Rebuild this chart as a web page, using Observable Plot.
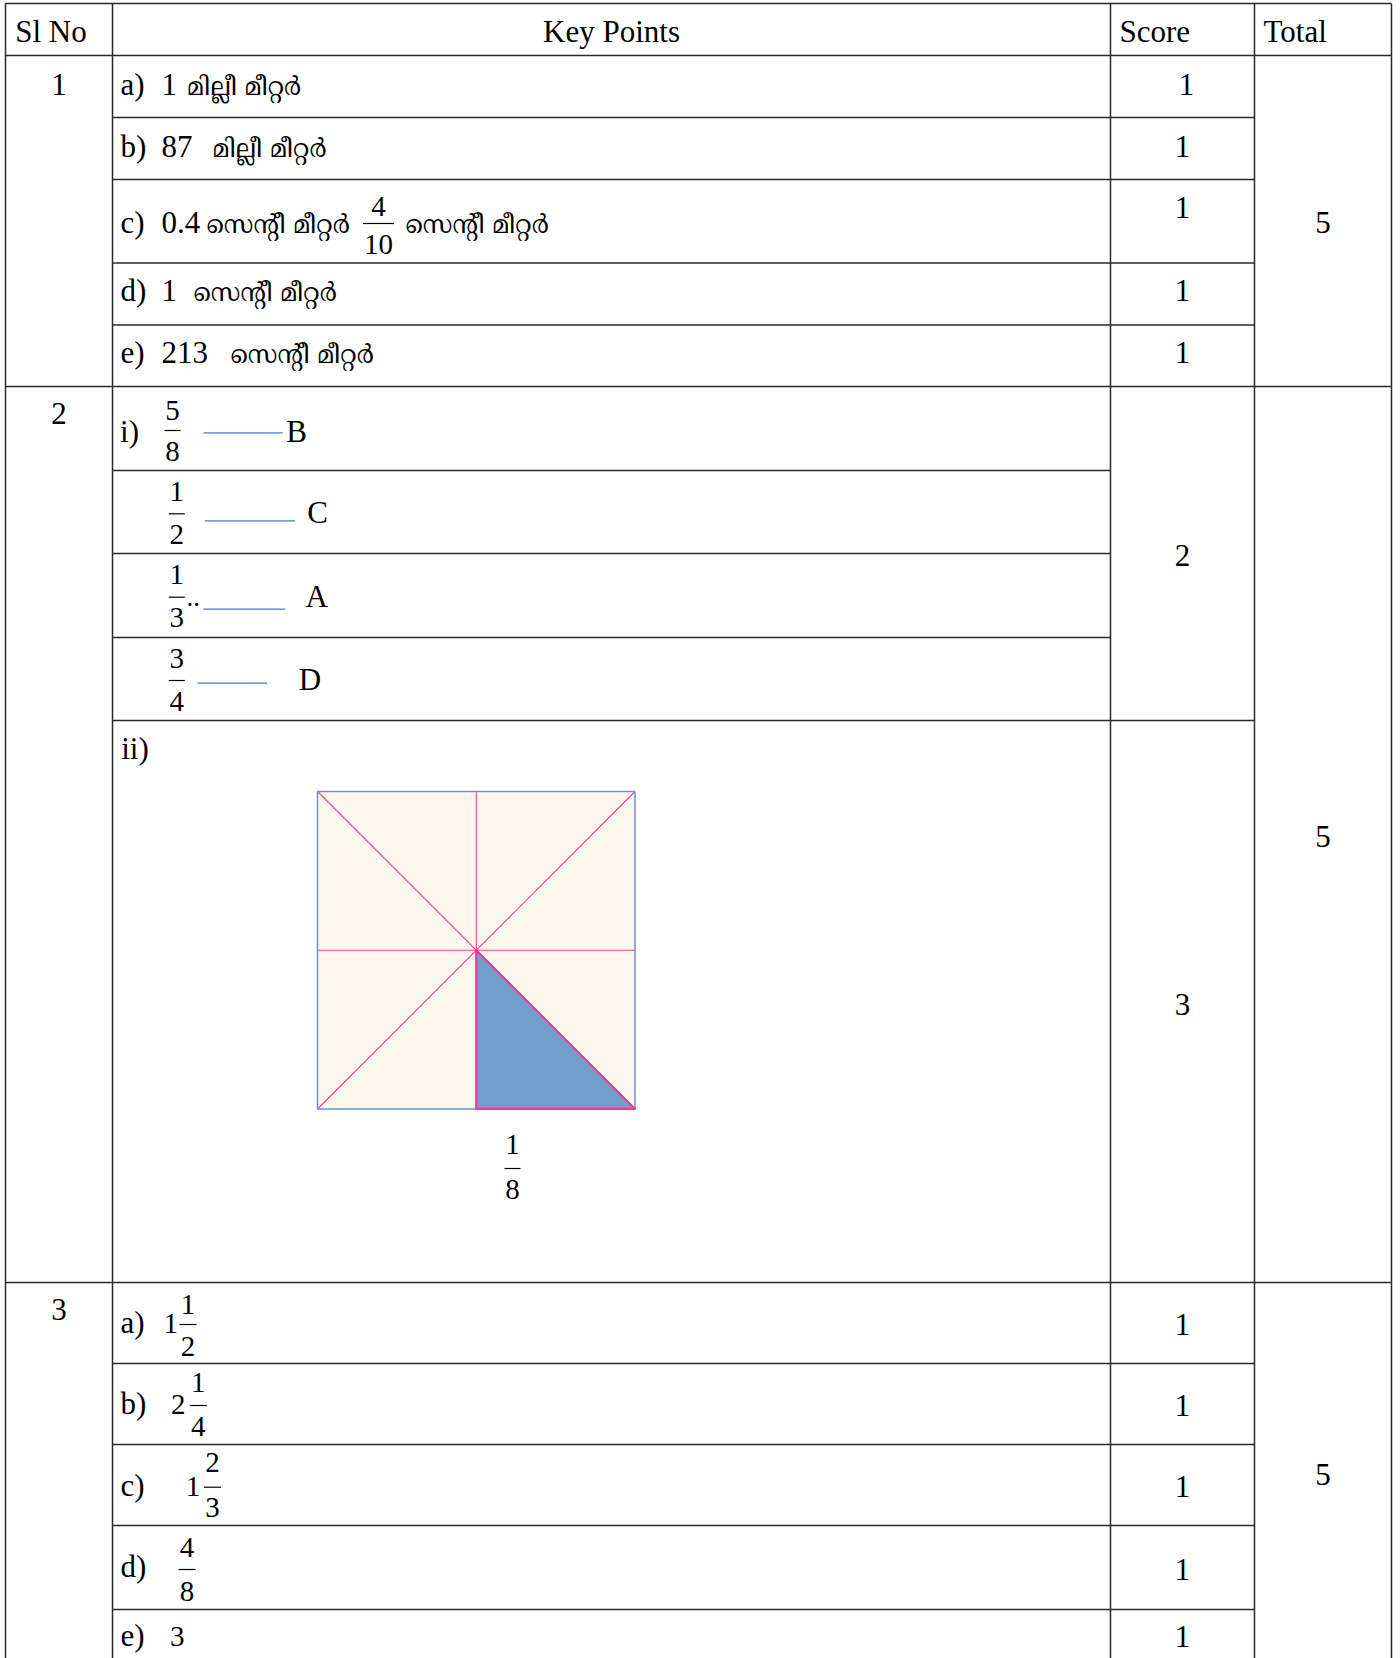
<!DOCTYPE html>
<html><head><meta charset="utf-8">
<script src="https://cdn.jsdelivr.net/npm/d3@7"></script>
<script src="https://cdn.jsdelivr.net/npm/@observablehq/plot@0.6"></script>
<style>body{margin:0;background:#fff}</style>
</head><body><div id="chart"></div>
<script>
// ---------------- content ----------------
const headers = ["Sl No", "Key Points", "Score", "Total"];
const questionNumbers = ["1", "2", "3"];
const questionTotals = ["5", "5", "5"];

const q1Parts = ["a)", "b)", "c)", "d)", "e)"];
const q1Values = ["1", "87", "0.4", "1", "213"];
const q1Units = ["മില്ലീ മീറ്റർ", "മില്ലീ മീറ്റർ", "സെന്റീ മീറ്റർ", "സെന്റീ മീറ്റർ", "സെന്റീ മീറ്റർ"];
const q1cFraction = ["4", "10"];
const q1Scores = ["1", "1", "1", "1", "1"];

const q2Parts = ["i)", "ii)"];
const q2Numerators = ["5", "1", "1", "3"];
const q2Denominators = ["8", "2", "3", "4"];
const q2Matches = ["B", "C", "A", "D"];
const q2Scores = ["2", "3"];
const q2Shaded = ["1", "8"];

const q3Parts = ["a)", "b)", "c)", "d)", "e)"];
const q3Wholes = ["1", "2", "1", "", "3"];
const q3Numerators = ["1", "1", "2", "4", ""];
const q3Denominators = ["2", "4", "3", "8", ""];
const q3Scores = ["1", "1", "1", "1", "1"];

// ---------------- layout ----------------
const W = 1400, H = 1658;
const colX = [5, 112, 1110, 1254, 1391];
const tableTop = 3, headerBottom = 55;
const q1Lines = [117, 179, 262.5, 324.5];
const q2Lines = [470, 553, 637];
const q2Split = 720;
const q3Lines = [1363, 1444, 1525, 1609];
const blockBottoms = [386, 1282];

const FS = 31;   // body text
const FR = 29;   // fraction digits
const FM = 25;   // Malayalam
const yOf = (baseline, fs) => baseline - 0.32 * fs;

const startTexts = [];   // {x, b, t, fs, font}
const midTexts = [];
const bars = [];         // fraction bars {x1,x2,y}
const blueLinks = [];

function frac(cx, num, den, nb, by, db, w, fs = FR) {
  midTexts.push({x: cx, b: nb, t: num, fs});
  midTexts.push({x: cx, b: db, t: den, fs});
  bars.push({x1: cx - w / 2, x2: cx + w / 2, y: by});
}

// headers
const headerX = [14.7, 611, 1119, 1263];
headers.forEach((h, i) => (i === 1 ? midTexts : startTexts).push({x: headerX[i], b: 41, t: h, fs: FS}));

// question numbers & totals
const qnoBase = [94.3, 423.3, 1319.3];
const totalBase = [232.3, 846, 1484.3];
questionNumbers.forEach((q, i) => midTexts.push({x: 58.5, b: qnoBase[i], t: q, fs: FS}));
questionTotals.forEach((q, i) => midTexts.push({x: 1322.5, b: totalBase[i], t: q, fs: FS}));

// Q1
const q1Base = [94, 156, 232, 300, 362];
const q1ScoreBase = [94.3, 156.7, 217, 300, 362];
const q1ScoreX = [1186, 1182, 1182, 1182, 1182];
const q1UnitX = [186.6, 212, 206, 193, 230];
q1Parts.forEach((p, i) => {
  startTexts.push({x: 120, b: q1Base[i], t: p, fs: FS});
  startTexts.push({x: 161, b: q1Base[i], t: q1Values[i], fs: FS});
  startTexts.push({x: q1UnitX[i], b: q1Base[i], t: q1Units[i], fs: FM, font: "mal"});
  midTexts.push({x: q1ScoreX[i], b: q1ScoreBase[i], t: q1Scores[i], fs: FS});
});
frac(378, q1cFraction[0], q1cFraction[1], 215, 223, 253, 31);
startTexts.push({x: 405, b: q1Base[2], t: q1Units[2], fs: FM, font: "mal"});

// Q2 (i)
startTexts.push({x: 119.6, b: 441.7, t: q2Parts[0], fs: FS});
const q2Cx = [172, 176.3, 176.3, 176.3];
const q2NumB = [419.3, 500.7, 583.3, 667.3];
const q2Bar = [430, 513.3, 596.7, 680];
const q2DenB = [460, 543.3, 626.7, 710];
const q2LineX1 = [203, 204.5, 203, 197];
const q2LineX2 = [282, 294.6, 284.8, 266.5];
const q2LineY = [432.3, 520.3, 608.7, 682.7];
const q2LetterX = [285.7, 306.7, 305, 298.2];
const q2LetterB = [441, 522.7, 606, 689];
q2Matches.forEach((m, i) => {
  frac(q2Cx[i], q2Numerators[i], q2Denominators[i], q2NumB[i], q2Bar[i], q2DenB[i], 16);
  blueLinks.push({x1: q2LineX1[i], x2: q2LineX2[i], y: q2LineY[i]});
  startTexts.push({x: q2LetterX[i], b: q2LetterB[i], t: m, fs: FS});
});
startTexts.push({x: 186, b: 605.5, t: "..", fs: 27});
midTexts.push({x: 1182, b: 565, t: q2Scores[0], fs: FS});
// Q2 (ii)
startTexts.push({x: 120.7, b: 758, t: q2Parts[1], fs: FS});
midTexts.push({x: 1182, b: 1014, t: q2Scores[1], fs: FS});
frac(512, q2Shaded[0], q2Shaded[1], 1153, 1168, 1198, 16);

// Q3
const q3Base = [1332.3, 1413.3, 1495, 1576.7, 1645];
const q3WholeX = [163, 170.5, 185.3, 0, 169.6];
const q3Cx = [187.5, 197.8, 212, 186.6];
const q3NumB = [1313.3, 1391.7, 1471.7, 1556.7];
const q3Bar = [1324, 1405, 1486.7, 1569];
const q3DenB = [1355, 1435.7, 1516.7, 1600];
const q3ScoreB = [1334, 1415.7, 1496, 1579.3, 1646.7];
q3Parts.forEach((p, i) => {
  startTexts.push({x: 120, b: q3Base[i], t: p, fs: FS});
  if (q3Wholes[i]) startTexts.push({x: q3WholeX[i], b: q3Base[i], t: q3Wholes[i], fs: FR});
  if (q3Numerators[i]) frac(q3Cx[i], q3Numerators[i], q3Denominators[i], q3NumB[i], q3Bar[i], q3DenB[i], 17);
  midTexts.push({x: 1182, b: q3ScoreB[i], t: q3Scores[i], fs: FS});
});

// grid lines
const grid = [];
[tableTop, headerBottom, ...blockBottoms].forEach(y => grid.push({x1: colX[0], x2: colX[4], y1: y, y2: y}));
[...q1Lines, q2Split, ...q3Lines].forEach(y => grid.push({x1: colX[1], x2: colX[3], y1: y, y2: y}));
q2Lines.forEach(y => grid.push({x1: colX[1], x2: colX[2], y1: y, y2: y}));
colX.forEach(x => grid.push({x1: x, x2: x, y1: tableTop, y2: H}));

// diagram (unit square mapped to page)
const sq = {x0: 317, y0: 791, s: 317.5};
const px = u => sq.x0 + u * sq.s, py = v => sq.y0 + v * sq.s;
const pinkLines = [[0,0,1,1],[1,0,0,1],[0.5,0,0.5,1],[0,0.5,1,0.5]];
const blueEdges = [[0,0,1,0],[0,0,0,1],[1,0,1,1],[0,1,0.5,1]];
const shaded = [[0.5,0.5],[0.5,1],[1,1]];

const seg = a => ({x1: px(a[0]), y1: py(a[1]), x2: px(a[2]), y2: py(a[3])});

const serif = "'Liberation Serif', 'Times New Roman', serif";
const mal = "'Noto Serif Malayalam','Rachana','Meera','Noto Sans Malayalam','Manjari','Lohit Malayalam', serif";

function textMarks(arr, anchor) {
  const groups = d3.groups(arr, d => d.fs + "|" + (d.font || ""));
  return groups.map(([k, g]) => Plot.text(g, {
    x: "x", y: d => yOf(d.b, d.fs), text: "t", textAnchor: anchor,
    fontSize: g[0].fs, fontFamily: g[0].font === "mal" ? mal : serif, fill: "#000"
  }));
}

const chart = Plot.plot({
  width: W, height: H,
  marginTop: 0, marginRight: 0, marginBottom: 0, marginLeft: 0,
  x: {domain: [0, W], range: [0, W], axis: null},
  y: {domain: [0, H], range: [0, H], axis: null},
  style: {fontFamily: serif, background: "#fff"},
  marks: [
    Plot.rect([sq], {x1: d => px(0), x2: d => px(1), y1: d => py(0), y2: d => py(1), fill: "#FDF8EE"}),
    Plot.line(shaded, {x: d => px(d[0]), y: d => py(d[1]), fill: "#729ECE", stroke: "none"}),
    Plot.link(pinkLines.map(seg), {x1: "x1", y1: "y1", x2: "x2", y2: "y2", stroke: "#FF3AA0", strokeWidth: 1.1}),
    Plot.link(blueEdges.map(seg), {x1: "x1", y1: "y1", x2: "x2", y2: "y2", stroke: "#6F90CC", strokeWidth: 1.5}),
    Plot.line(shaded, {x: d => px(d[0]), y: d => py(d[1]), stroke: "#F0388F", strokeWidth: 2, curve: "linear-closed"}),
    Plot.link(grid, {x1: "x1", y1: "y1", x2: "x2", y2: "y2", stroke: "#2a2a2a", strokeWidth: 1.5}),
    Plot.link(blueLinks, {x1: "x1", x2: "x2", y1: "y", y2: "y", stroke: "#4A78C4", strokeWidth: 1.2}),
    Plot.link(bars, {x1: "x1", x2: "x2", y1: "y", y2: "y", stroke: "#000", strokeWidth: 1.2}),
    ...textMarks(startTexts, "start"),
    ...textMarks(midTexts, "middle")
  ]
});
document.getElementById("chart").appendChild(chart);
</script>
</body></html>
